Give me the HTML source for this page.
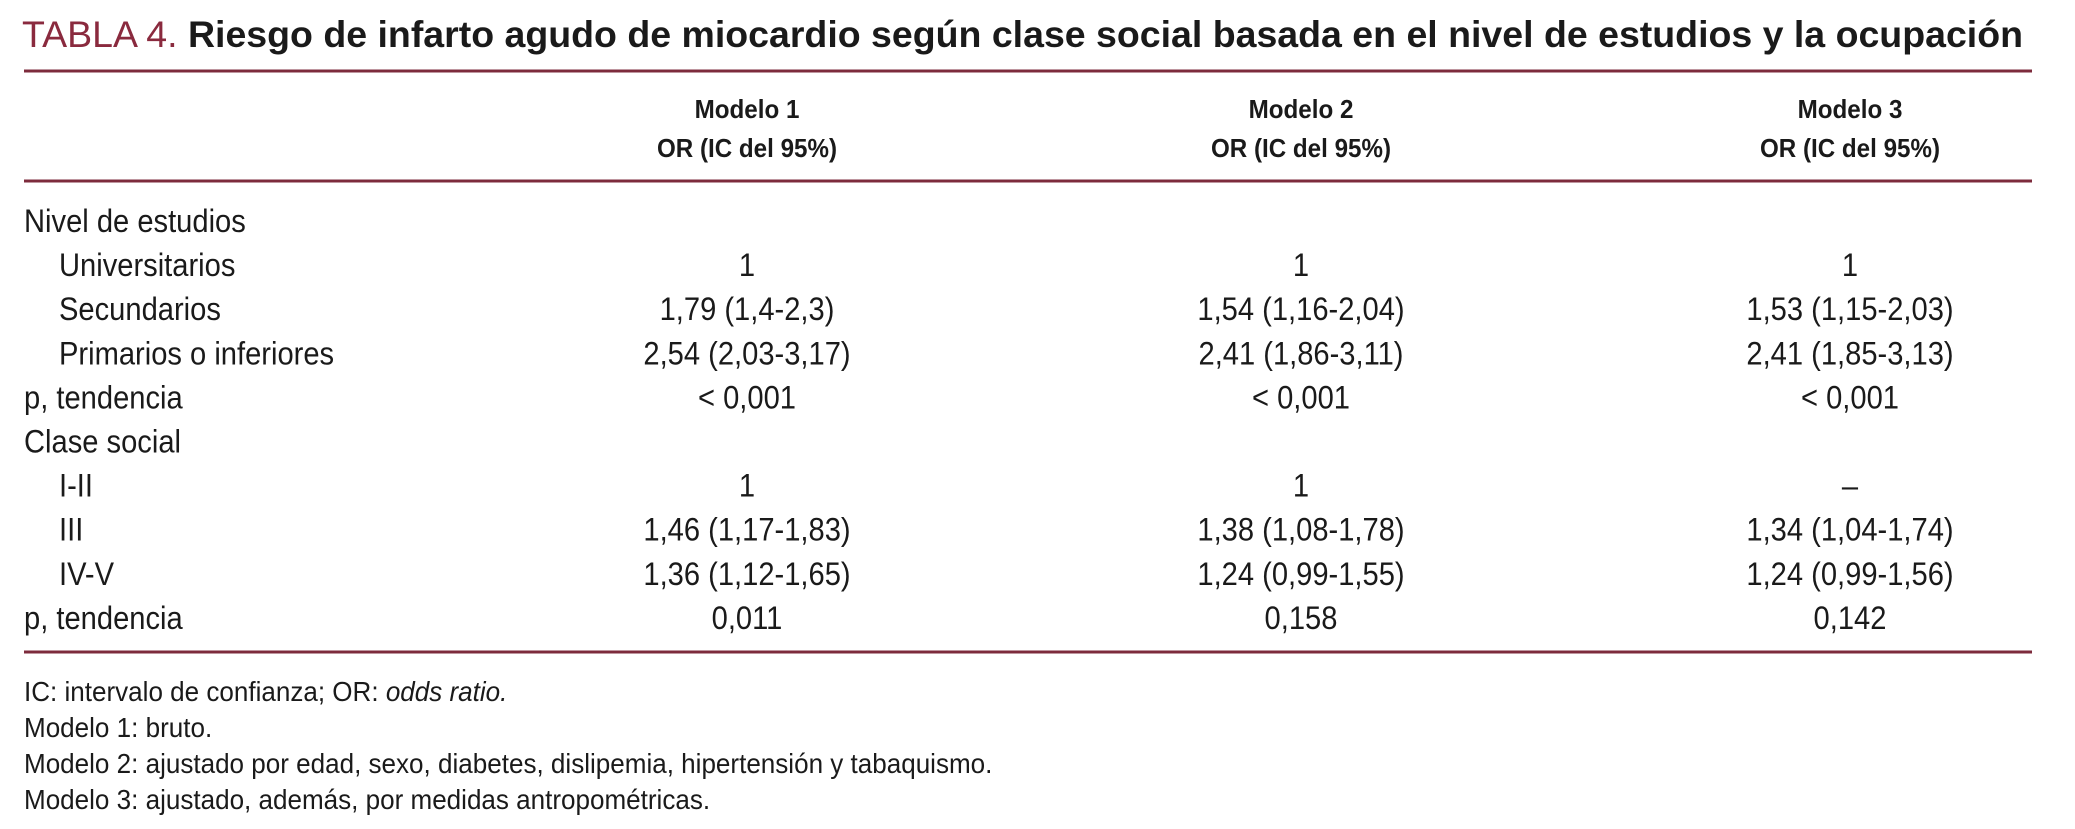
<!DOCTYPE html>
<html><head><meta charset="utf-8">
<style>
html,body{margin:0;padding:0;background:#fff;}
svg{display:block;}
text{font-family:"Liberation Sans Narrow","Liberation Sans",sans-serif;fill:#1a1a1a;}
</style></head>
<body>
<svg id="tbl" width="2075" height="829" viewBox="0 0 2075 829">
  <text x="22" y="47" font-size="37" textLength="2001" lengthAdjust="spacingAndGlyphs"><tspan fill="#8a2a3e" style="fill:#8a2a3e">TABLA 4. </tspan><tspan font-weight="bold">Riesgo de infarto agudo de miocardio según clase social basada en el nivel de estudios y la ocupación</tspan></text>
  <line x1="24" y1="71" x2="2032" y2="71" stroke="#7d2b3c" stroke-width="3"/>
  <line x1="24" y1="181" x2="2032" y2="181" stroke="#7d2b3c" stroke-width="3"/>
  <line x1="24" y1="652" x2="2032" y2="652" stroke="#7d2b3c" stroke-width="3"/>
  <g id="body"></g>
</svg>
<script>
const models = ["Modelo 1","Modelo 2","Modelo 3"];
const colX = [747, 1301, 1850];
const rowLabels = ["Nivel de estudios","Universitarios","Secundarios","Primarios o inferiores","p, tendencia","Clase social","I-II","III","IV-V","p, tendencia"];
const rowIndent = [0,1,1,1,0,0,1,1,1,0];
const model1 = ["","1","1,79 (1,4-2,3)","2,54 (2,03-3,17)","< 0,001","","1","1,46 (1,17-1,83)","1,36 (1,12-1,65)","0,011"];
const model2 = ["","1","1,54 (1,16-2,04)","2,41 (1,86-3,11)","< 0,001","","1","1,38 (1,08-1,78)","1,24 (0,99-1,55)","0,158"];
const model3 = ["","1","1,53 (1,15-2,03)","2,41 (1,85-3,13)","< 0,001","","–","1,34 (1,04-1,74)","1,24 (0,99-1,56)","0,142"];
const footnotes = ["IC: intervalo de confianza; OR: |odds ratio.|","Modelo 1: bruto.","Modelo 2: ajustado por edad, sexo, diabetes, dislipemia, hipertensión y tabaquismo.","Modelo 3: ajustado, además, por medidas antropométricas."];
</script>
<script>
const NS="http://www.w3.org/2000/svg";
const g=document.getElementById('body');
function mk(x,y,size,anchor,cls){const t=document.createElementNS(NS,'text');t.setAttribute('x',x);t.setAttribute('y',y);t.setAttribute('font-size',size);if(anchor)t.setAttribute('text-anchor',anchor);t.dataset.k=cls;g.appendChild(t);return t;}
const rowY=i=>232+i*44.1;
models.forEach((m,j)=>{
  const a=mk(colX[j],118,26,'middle',0.93);a.setAttribute('font-weight','bold');a.textContent=m;
  
  
  const b=mk(colX[j],157,26,'middle',0.93);b.setAttribute('font-weight','bold');b.textContent='OR (IC del 95%)';
  
  
});
const cols=[model1,model2,model3];
rowLabels.forEach((lab,i)=>{
  const t=mk(rowIndent[i]?59:24,rowY(i),32,null,0.91);t.textContent=lab;
  
  
  cols.forEach((c,j)=>{
    if(!c[i])return;
    const v=mk(colX[j],rowY(i),32,'middle',0.91);v.textContent=c[i];
    
    
  });
});
const fy=[701,737,773,809];
footnotes.forEach((f,i)=>{
  const t=mk(24,fy[i],28,null,0.93);
  f.split('|').forEach((p,k)=>{const s=document.createElementNS(NS,'tspan');s.textContent=p;if(k===1)s.setAttribute('font-style','italic');t.appendChild(s);});
  
  
});
g.querySelectorAll('text').forEach(t=>{const k=parseFloat(t.dataset.k);const w=t.getComputedTextLength();if(w>0&&k){t.setAttribute('textLength',(w*k).toFixed(1));t.setAttribute('lengthAdjust','spacingAndGlyphs');}});
</script>
</body></html>
